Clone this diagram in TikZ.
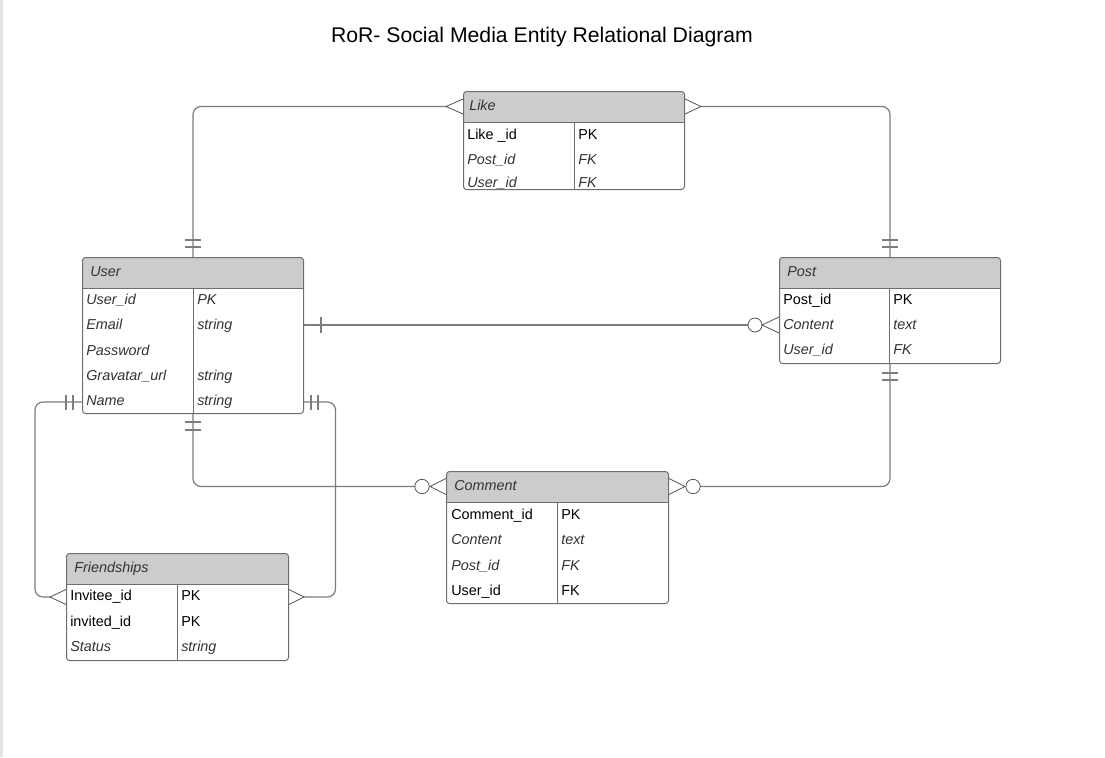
\documentclass[tikz,border=0pt]{standalone}
\usepackage{fontspec}
\setmainfont{Liberation Sans}
\usetikzlibrary{calc}
\definecolor{hdrgray}{RGB}{204,204,204}
\definecolor{bordergray}{RGB}{110,110,110}
\definecolor{conngray}{RGB}{125,125,125}
\definecolor{footgray}{RGB}{85,85,85}
\definecolor{ittext}{RGB}{51,51,51}
\definecolor{striplight}{RGB}{228,228,228}
\begin{document}
\begin{tikzpicture}[x=0.75pt,y=-0.75pt,
  tbl/.style={draw=bordergray, line width=0.75pt, rounded corners=2.25pt, inner sep=0pt, anchor=north west,
    path picture={\fill[hdrgray] (path picture bounding box.north west) rectangle ([yshift=-23.25pt]path picture bounding box.north east);
      \draw[bordergray, line width=0.75pt] ([yshift=-23.25pt]path picture bounding box.north west) -- ([yshift=-23.25pt]path picture bounding box.north east);}},
  divline/.style={draw=bordergray, line width=0.75pt},
  hdrtxt/.style={anchor=base west, inner sep=0pt, text height=8.25pt, text depth=3pt, text=ittext, font=\fontsize{10.8}{13}\selectfont\itshape},
  cellup/.style={anchor=base west, inner sep=0pt, text height=8.25pt, text depth=0pt, text=black, font=\fontsize{10.8}{13}\selectfont},
  cellit/.style={anchor=base west, inner sep=0pt, text height=8.25pt, text depth=0pt, text=ittext, font=\fontsize{10.8}{13}\selectfont\itshape},
  conn/.style={draw=conngray, line width=0.9pt, rounded corners=6pt},
  barmark/.style={draw=conngray, line width=0.9pt},
  foot/.style={draw=footgray, line width=0.6pt}
]
\fill[white] (0,0) rectangle (1105,757);
\fill[striplight] (0,0) rectangle (3,757);
\useasboundingbox (0,0) rectangle (1105,757);

\node[font=\fontsize{15.9}{19}\selectfont] (title) at (542,37) {RoR- Social Media Entity Relational Diagram};

% ---------- Like ----------
\node[tbl, minimum width=165.75pt, minimum height=73.5pt] (like) at (463,91) {};
\draw[divline] (574,122) -- (574,189);
\node[hdrtxt] (like-t) at (469,110) {Like};
\node[cellup] (like-a1) at (467,139.5) {Like \_id};
\node[cellup] (like-b1) at (578,139.5) {PK};
\node[cellit] (like-a2) at (467,164) {Post\_id};
\node[cellit] (like-b2) at (578,164) {FK};
\node[cellit] (like-a3) at (467,187) {User\_id};
\node[cellit] (like-b3) at (578,187) {FK};

% ---------- User ----------
\node[tbl, minimum width=165.75pt, minimum height=117pt] (user) at (82,257) {};
\draw[divline] (193,288) -- (193,413);
\node[hdrtxt] (user-t) at (90,276) {User};
\node[cellit] (user-a1) at (86,304) {User\_id};
\node[cellit] (user-b1) at (197,304) {PK};
\node[cellit] (user-a2) at (86,329) {Email};
\node[cellit] (user-b2) at (197,329) {string};
\node[cellit] (user-a3) at (86,355) {Password};
\node[cellit] (user-a4) at (86,380) {Gravatar\_url};
\node[cellit] (user-b4) at (197,380) {string};
\node[cellit] (user-a5) at (86,405) {Name};
\node[cellit] (user-b5) at (197,405) {string};

% ---------- Post ----------
\node[tbl, minimum width=165.75pt, minimum height=79.5pt] (post) at (779,257) {};
\draw[divline] (889,288) -- (889,363);
\node[hdrtxt] (post-t) at (787,276) {Post};
\node[cellup] (post-a1) at (783,304) {Post\_id};
\node[cellup] (post-b1) at (893,304) {PK};
\node[cellit] (post-a2) at (783,329) {Content};
\node[cellit] (post-b2) at (893,329) {text};
\node[cellit] (post-a3) at (783,354.5) {User\_id};
\node[cellit] (post-b3) at (893,354.5) {FK};

% ---------- Comment ----------
\node[tbl, minimum width=166.5pt, minimum height=99pt] (comment) at (446,471) {};
\draw[divline] (557,502) -- (557,603);
\node[hdrtxt] (comment-t) at (454,490) {Comment};
\node[cellup] (comment-a1) at (451,519) {Comment\_id};
\node[cellup] (comment-b1) at (561,519) {PK};
\node[cellit] (comment-a2) at (451,544) {Content};
\node[cellit] (comment-b2) at (561,544) {text};
\node[cellit] (comment-a3) at (451,570) {Post\_id};
\node[cellit] (comment-b3) at (561,570) {FK};
\node[cellup] (comment-a4) at (451,595) {User\_id};
\node[cellup] (comment-b4) at (561,595) {FK};

% ---------- Friendships ----------
\node[tbl, minimum width=166.5pt, minimum height=80.25pt] (friend) at (66,553) {};
\draw[divline] (177,584) -- (177,660);
\node[hdrtxt] (friend-t) at (74,572) {Friendships};
\node[cellup] (fr-a1) at (70,600) {Invitee\_id};
\node[cellup] (fr-b1) at (181,600) {PK};
\node[cellup] (fr-a2) at (70,626) {invited\_id};
\node[cellup] (fr-b2) at (181,626) {PK};
\node[cellit] (fr-a3) at (70,651) {Status};
\node[cellit] (fr-b3) at (181,651) {string};

\coordinate (lftx) at (35,0);
\coordinate (rgtx) at (335.5,0);
% attachment points on the entity borders
\coordinate (upA) at ($(user.east |- user-a2)+(0,1.5)$);
\coordinate (pcA) at ($(post.west |- post-a2)+(0,1.5)$);
\coordinate (unL) at ($(user.west |- user-a5)+(0,2.5)$);
\coordinate (unR) at ($(user.east |- user-a5)+(0,2.5)$);
\coordinate (frL) at ($(friend.west |- fr-a1)+(0,2.5)$);
\coordinate (frR) at ($(friend.east |- fr-a1)+(0,2.5)$);

% ---------- User - Like ----------
\draw[conn, shorten >=12.75pt] (user.north) |- (like.west |- like-t);
\draw[barmark] ($(user.north)+(-8,-17)$) -- ++(16,0);
\draw[barmark] ($(user.north)+(-8,-10)$) -- ++(16,0);
\draw[foot] ($(like.west |- like-t)+(0,-7.5)$) -- ++(-17,7.5) -- ++(17,7.5);

% ---------- Like - Post ----------
\draw[conn, shorten <=12pt] (like.east |- like-t) -| (post.north);
\draw[foot] ($(like.east |- like-t)+(0,-7.5)$) -- ++(16,7.5) -- ++(-16,7.5);
\draw[barmark] ($(post.north)+(-8,-17)$) -- ++(16,0);
\draw[barmark] ($(post.north)+(-8,-10)$) -- ++(16,0);

% ---------- User - Post ----------
\draw[conn, shorten >=23.25pt] (upA) -- (pcA);
\draw[barmark] ($(upA)+(17,-8)$) -- ++(0,16);
\draw[foot, fill=white] ($(pcA)+(-24,0)$) circle[radius=5.25pt];
\draw[foot] ($(pcA)+(0,-8)$) -- ++(-17,8) -- ++(17,8);

% ---------- User - Comment ----------
\draw[conn, shorten >=23.25pt] (user.south) |- (comment.west |- comment-t);
\draw[barmark] ($(user.south)+(-8,8)$) -- ++(16,0);
\draw[barmark] ($(user.south)+(-8,16)$) -- ++(16,0);
\draw[foot, fill=white] ($(comment.west |- comment-t)+(-24,0)$) circle[radius=5.4pt];
\draw[foot] ($(comment.west |- comment-t)+(0,-8)$) -- ++(-16,8) -- ++(16,8);

% ---------- Post - Comment ----------
\draw[conn, shorten >=23.25pt] (post.south) |- (comment.east |- comment-t);
\draw[barmark] ($(post.south)+(-8,9)$) -- ++(16,0);
\draw[barmark] ($(post.south)+(-8,16)$) -- ++(16,0);
\draw[foot] ($(comment.east |- comment-t)+(0,-8)$) -- ++(16,8) -- ++(-16,8);
\draw[foot, fill=white] ($(comment.east |- comment-t)+(24,0)$) circle[radius=5.4pt];

% ---------- User - Friendships (left) ----------
\draw[conn, shorten >=12pt] (unL) -| (lftx |- frL) -- (frL);
\draw[barmark] ($(unL)+(-16,-7.5)$) -- ++(0,15);
\draw[barmark] ($(unL)+(-9,-7.5)$) -- ++(0,15);
\draw[foot] ($(frL)+(0,-7.5)$) -- ++(-16,7.5) -- ++(16,7.5);

% ---------- User - Friendships (right) ----------
\draw[conn, shorten >=11.25pt] (unR) -| (rgtx |- frR) -- (frR);
\draw[barmark] ($(unR)+(7,-7.5)$) -- ++(0,15);
\draw[barmark] ($(unR)+(14,-7.5)$) -- ++(0,15);
\draw[foot] ($(frR)+(0,-7.5)$) -- ++(15,7.5) -- ++(-15,7.5);
\end{tikzpicture}
\end{document}
